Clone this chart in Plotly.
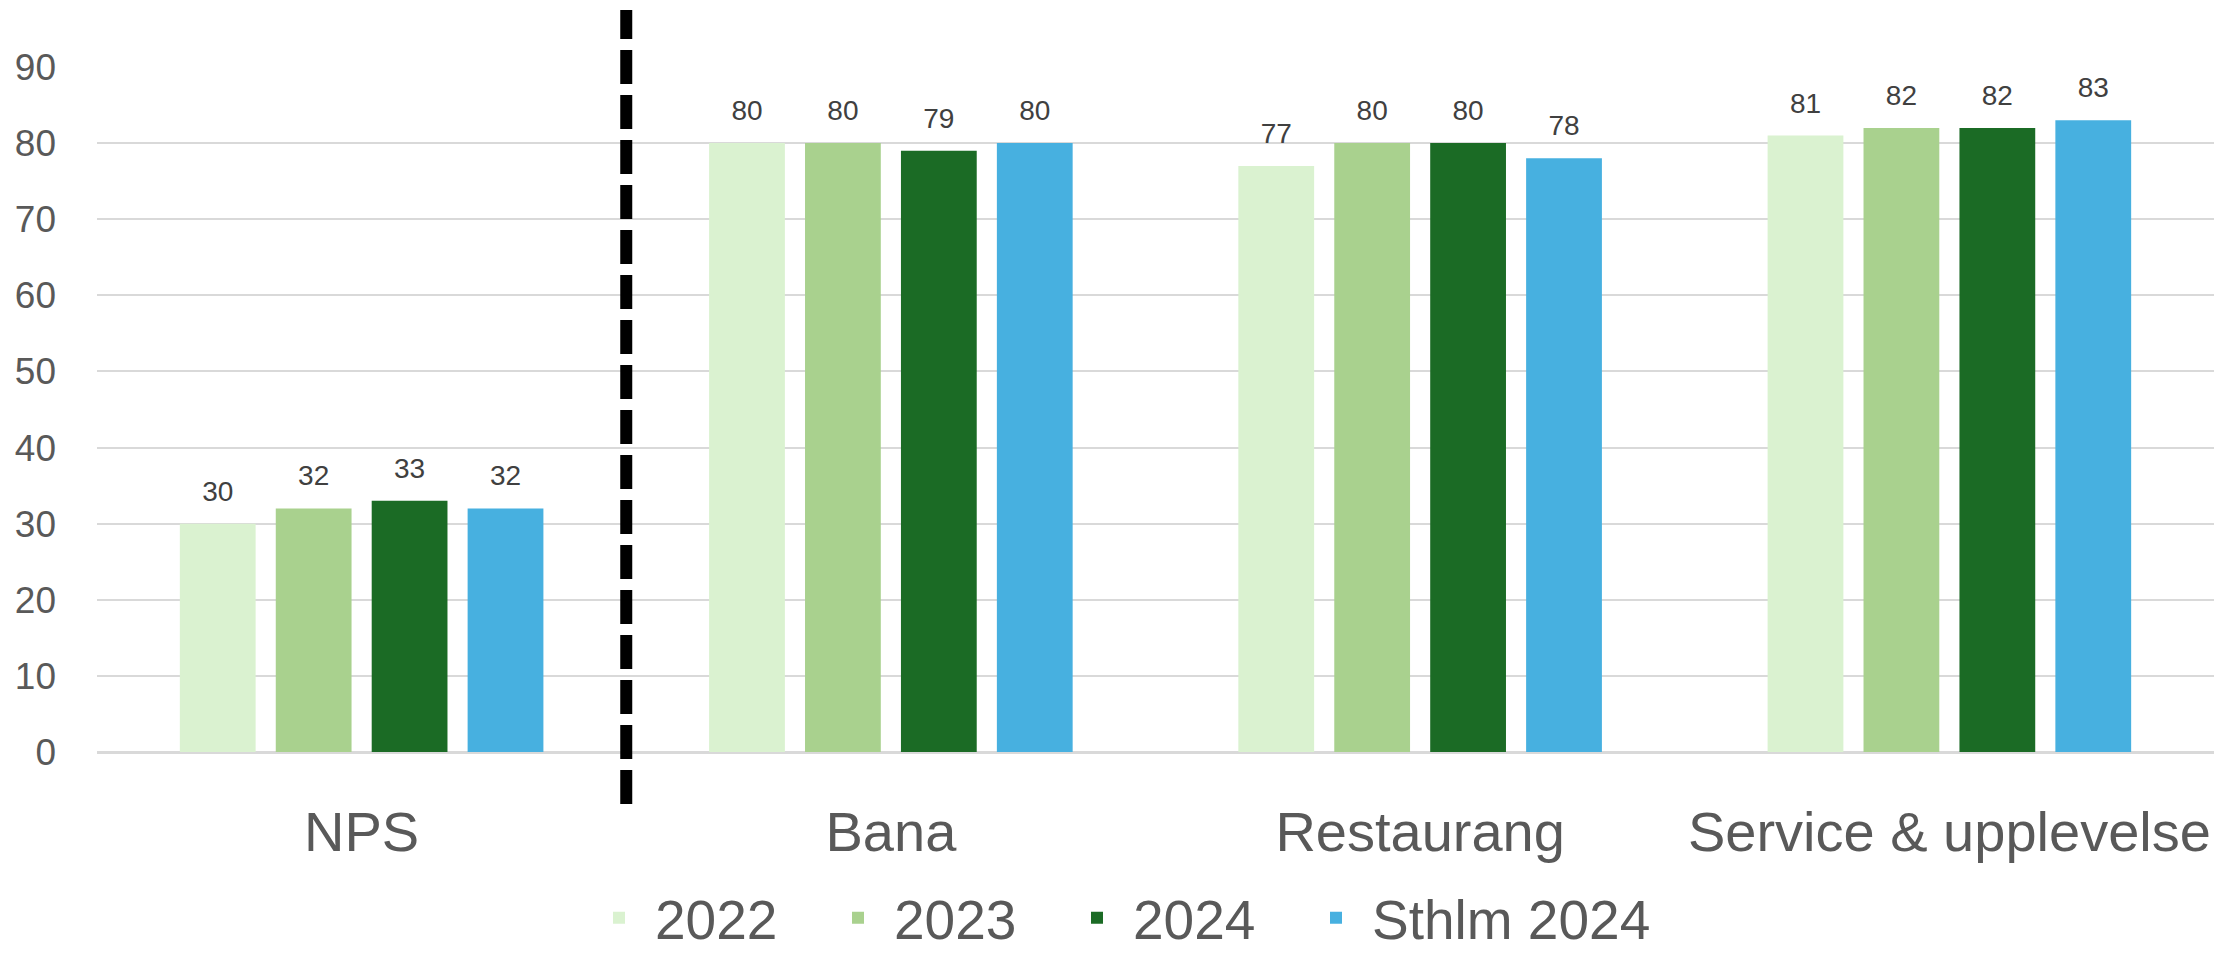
import plotly.graph_objects as go

categories = ["NPS", "Bana", "Restaurang", "Service & upplevelse"]
series_names = ["2022", "2023", "2024", "Sthlm 2024"]
v2022 = [30, 80, 77, 81]
v2023 = [32, 80, 80, 82]
v2024 = [33, 79, 80, 82]
vsthlm = [32, 80, 78, 83]
series_values = [v2022, v2023, v2024, vsthlm]
colors = ["#DAF2D0", "#A9D18E", "#1B6B25", "#47B0E0"]
y_ticks = [0, 10, 20, 30, 40, 50, 60, 70, 80, 90]

FONT = "Liberation Sans"
W, H = 2233, 957
ML, MR, MT, MB = 97, 19, 67, 205
BARGAP = 0.275
plot_w = W - ML - MR
plot_h = H - MT - MB

# legend layout (pixels)
LEG_ITEMWIDTH = 62
LEG_FIRST_CENTER = 619
LEG_STEP = 239
LEG_CENTER_Y = 918

fig = go.Figure()
legend_ids = ["legend", "legend2", "legend3", "legend4"]
for name, vals, col, lid in zip(series_names, series_values, colors, legend_ids):
    fig.add_trace(go.Bar(
        x=categories, y=vals, name=name, legend=lid,
        marker=dict(color=col, line=dict(width=0)),
    ))
for name, vals in zip(series_names, series_values):
    fig.add_trace(go.Scatter(
        x=categories, y=vals, mode="markers+text", text=[str(v) for v in vals],
        textposition="top center", showlegend=False, hoverinfo="skip",
        marker=dict(size=24, color="rgba(0,0,0,0)"),
        textfont=dict(family=FONT, size=28, color="#404040"), cliponaxis=False,
    ))

# separator line between NPS and the other categories (boundary between category 0 and 1)
n = len(categories)
sep_paper_x = (0.5 + 0.5) / n
fig.add_shape(type="line", xref="paper", yref="paper",
              x0=sep_paper_x, x1=sep_paper_x,
              y0=-(804 - (H - MB)) / plot_h, y1=((H - MB) - 10) / plot_h,
              line=dict(color="black", width=12, dash="34px,11px"))

legends = {}
for i, lid in enumerate(legend_ids):
    left_px = LEG_FIRST_CENTER + i * LEG_STEP - (LEG_ITEMWIDTH + 10) / 2
    legends[lid] = dict(
        orientation="h", x=(left_px - ML) / plot_w, xanchor="left", xref="paper",
        y=(-(LEG_CENTER_Y - (H - MB))) / plot_h, yanchor="middle",
        font=dict(family=FONT, size=55, color="#595959"),
        itemwidth=LEG_ITEMWIDTH, bgcolor="rgba(0,0,0,0)", borderwidth=0,
    )

fig.update_layout(
    width=W, height=H, margin=dict(l=ML, r=MR, t=MT, b=MB, autoexpand=False),
    paper_bgcolor="white", plot_bgcolor="white",
    barmode="group", bargap=BARGAP, bargroupgap=0.21,
    scattermode="group", scattergap=BARGAP,
    font=dict(family=FONT, color="#595959"),
    showlegend=True,
    xaxis=dict(type="category", range=[-0.5, n - 0.5], showgrid=False, automargin=False,
               showline=False, ticks="", ticklabelstandoff=42,
               tickfont=dict(family=FONT, size=56, color="#595959")),
    yaxis=dict(range=[0, 90], tickvals=y_ticks, showgrid=True, gridcolor="#D9D9D9",
               gridwidth=2, zeroline=True, zerolinecolor="#D9D9D9", zerolinewidth=3,
               showline=False, ticks="", ticklabelstandoff=40, automargin=False,
               tickfont=dict(family=FONT, size=37, color="#595959")),
    **legends,
)

fig.write_html("out.html", config={"displayModeBar": False},
               post_script="document.body.style.margin='0';document.body.style.padding='0';document.body.style.overflow='hidden';")
